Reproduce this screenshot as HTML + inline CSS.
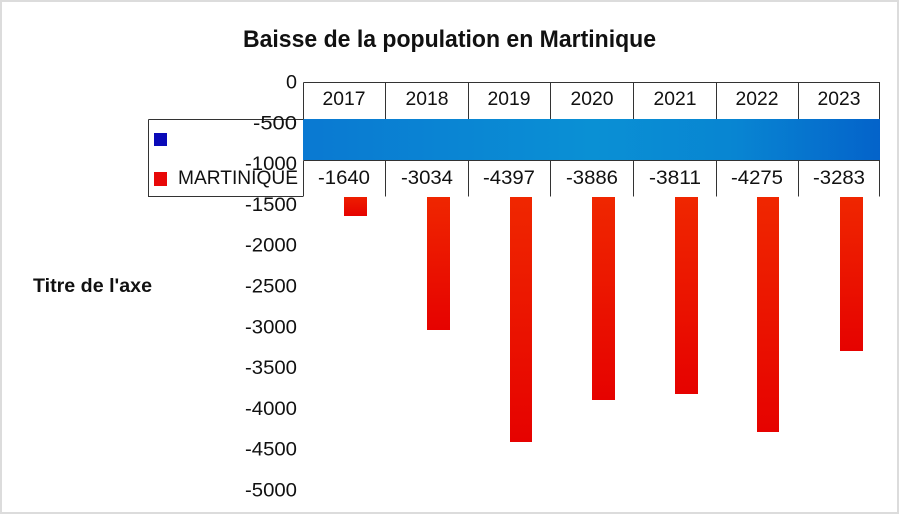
<!DOCTYPE html>
<html>
<head>
<meta charset="utf-8">
<style>
html,body{margin:0;padding:0;background:#fff;}
svg{display:block;}
</style>
</head>
<body>
<svg width="900" height="514" viewBox="0 0 900 514" xmlns="http://www.w3.org/2000/svg" font-family="'Liberation Sans', sans-serif">
<defs>
<linearGradient id="bar" x1="0" y1="0" x2="0" y2="1">
<stop offset="0" stop-color="#f02800"/>
<stop offset="1" stop-color="#e60200"/>
</linearGradient>
<linearGradient id="band" x1="0" y1="0" x2="1" y2="0">
<stop offset="0" stop-color="#0a79d2"/>
<stop offset="0.5" stop-color="#0a90d4"/>
<stop offset="0.75" stop-color="#0885d2"/>
<stop offset="1" stop-color="#0463ca"/>
</linearGradient>
</defs>
<rect x="0" y="0" width="900" height="514" fill="#fff"/>
<!-- outer border -->
<rect x="1" y="1" width="897" height="512" fill="none" stroke="#dcdcdc" stroke-width="2"/>

<!-- title -->
<text x="243" y="47" font-size="24" font-weight="bold" fill="#111" textLength="413" lengthAdjust="spacingAndGlyphs">Baisse de la population en Martinique</text>

<!-- axis title -->
<text x="33" y="292" font-size="19" font-weight="bold" fill="#111" textLength="119" lengthAdjust="spacingAndGlyphs">Titre de l'axe</text>

<!-- bars -->
<g fill="url(#bar)">
<rect x="344" y="190" width="23" height="26"/>
<rect x="427" y="190" width="23" height="140"/>
<rect x="510" y="190" width="22" height="252"/>
<rect x="592" y="190" width="23" height="210"/>
<rect x="675" y="190" width="23" height="204"/>
<rect x="757" y="190" width="22" height="242"/>
<rect x="840" y="190" width="23" height="161"/>
</g>

<!-- legend box -->
<rect x="148" y="119" width="155" height="78" fill="#fff"/>
<path d="M148.5 119.5 H303 M148.5 119.5 V196.5 H880" fill="none" stroke="#333" stroke-width="1"/>
<rect x="154" y="133" width="13" height="13" fill="#0a0ab8"/>
<rect x="154" y="172" width="13" height="14" fill="#e80808"/>
<text x="178" y="184" font-size="19" fill="#111" textLength="120" lengthAdjust="spacingAndGlyphs">MARTINIQUE</text>

<!-- table -->
<rect x="303" y="82" width="577" height="37" fill="#fff"/>
<rect x="303" y="160" width="577" height="37" fill="#fff"/>
<rect x="303" y="119" width="577" height="41" fill="url(#band)"/>
<g fill="none" stroke="#333" stroke-width="1">
<path d="M303.5 82.5 H879.5 V119 M303.5 82.5 V119"/>
<path d="M303 119.5 H303.5 M303.5 160.5 H879.5 V196.5 M303.5 160.5 V196.5"/>
<path d="M385.5 82.5 V119 M468.5 82.5 V119 M550.5 82.5 V119 M633.5 82.5 V119 M716.5 82.5 V119 M798.5 82.5 V119"/>
<path d="M385.5 160.5 V196.5 M468.5 160.5 V196.5 M550.5 160.5 V196.5 M633.5 160.5 V196.5 M716.5 160.5 V196.5 M798.5 160.5 V196.5"/>
</g>
<g font-size="19" fill="#111" text-anchor="middle">
<text x="344" y="105" textLength="43" lengthAdjust="spacingAndGlyphs">2017</text>
<text x="427" y="105" textLength="43" lengthAdjust="spacingAndGlyphs">2018</text>
<text x="509" y="105" textLength="43" lengthAdjust="spacingAndGlyphs">2019</text>
<text x="592" y="105" textLength="43" lengthAdjust="spacingAndGlyphs">2020</text>
<text x="675" y="105" textLength="43" lengthAdjust="spacingAndGlyphs">2021</text>
<text x="757" y="105" textLength="43" lengthAdjust="spacingAndGlyphs">2022</text>
<text x="839" y="105" textLength="43" lengthAdjust="spacingAndGlyphs">2023</text>
<text x="344" y="184" textLength="52" lengthAdjust="spacingAndGlyphs">-1640</text>
<text x="427" y="184" textLength="52" lengthAdjust="spacingAndGlyphs">-3034</text>
<text x="509" y="184" textLength="52" lengthAdjust="spacingAndGlyphs">-4397</text>
<text x="592" y="184" textLength="52" lengthAdjust="spacingAndGlyphs">-3886</text>
<text x="675" y="184" textLength="52" lengthAdjust="spacingAndGlyphs">-3811</text>
<text x="757" y="184" textLength="52" lengthAdjust="spacingAndGlyphs">-4275</text>
<text x="839" y="184" textLength="52" lengthAdjust="spacingAndGlyphs">-3283</text>
</g>

<!-- y axis labels -->
<g font-size="19" fill="#111" text-anchor="end">
<text x="297" y="88.5" textLength="11" lengthAdjust="spacingAndGlyphs">0</text>
<text x="297" y="129.3" textLength="44" lengthAdjust="spacingAndGlyphs">-500</text>
<text x="297" y="170.1" textLength="52" lengthAdjust="spacingAndGlyphs">-1000</text>
<text x="297" y="210.9" textLength="52" lengthAdjust="spacingAndGlyphs">-1500</text>
<text x="297" y="251.7" textLength="52" lengthAdjust="spacingAndGlyphs">-2000</text>
<text x="297" y="292.5" textLength="52" lengthAdjust="spacingAndGlyphs">-2500</text>
<text x="297" y="333.3" textLength="52" lengthAdjust="spacingAndGlyphs">-3000</text>
<text x="297" y="374.1" textLength="52" lengthAdjust="spacingAndGlyphs">-3500</text>
<text x="297" y="414.9" textLength="52" lengthAdjust="spacingAndGlyphs">-4000</text>
<text x="297" y="455.7" textLength="52" lengthAdjust="spacingAndGlyphs">-4500</text>
<text x="297" y="496.5" textLength="52" lengthAdjust="spacingAndGlyphs">-5000</text>
</g>
</svg>
</body>
</html>
